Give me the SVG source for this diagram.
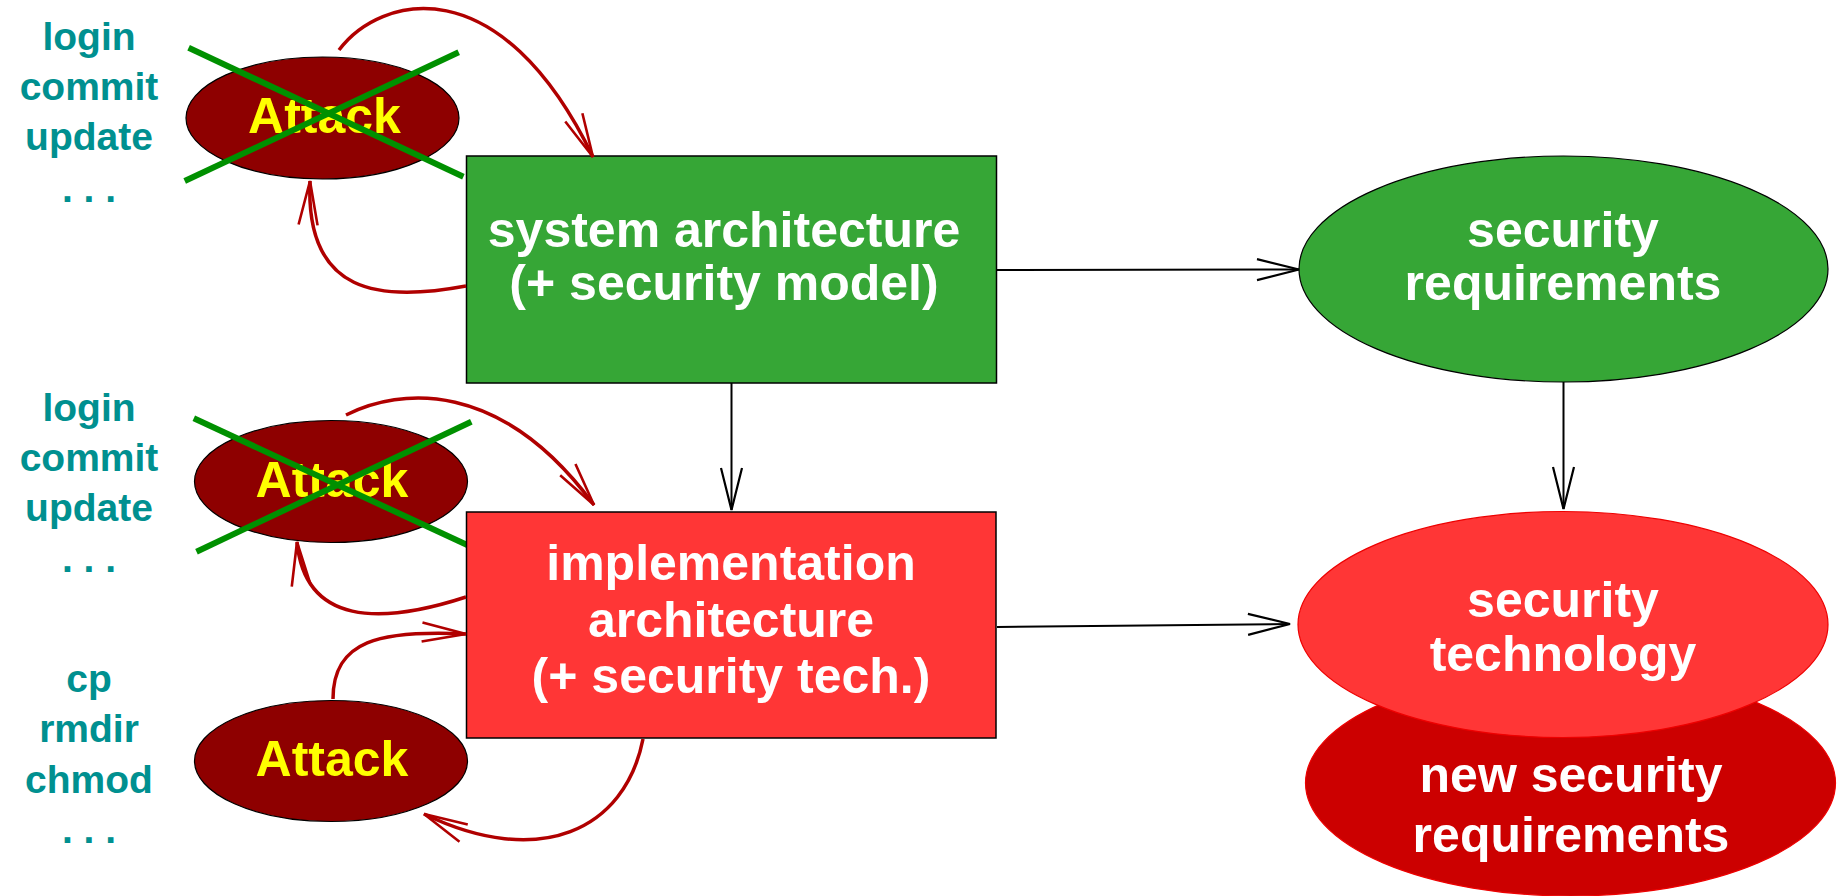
<svg xmlns="http://www.w3.org/2000/svg" width="1838" height="896" viewBox="0 0 1838 896">
<defs>
<style>
text{font-family:"Liberation Sans",Arial,sans-serif;font-weight:bold;text-anchor:middle}
.cmd{fill:#009090;font-size:39px}
.atk{fill:#ffff00;font-size:50px}
.lbl{fill:#ffffff;font-size:50px}
.atkshape{fill:#8e0000;stroke:#000;stroke-width:1.2}
.cross{stroke:#009000;stroke-width:6;fill:none}
.blk{stroke:#000;stroke-width:2;fill:none;marker-end:url(#ab)}
.red{stroke:#b00000;stroke-width:3.5;fill:none;marker-end:url(#ar)}
</style>
<marker id="ab" markerUnits="userSpaceOnUse" orient="auto" refX="0" refY="0" markerWidth="50" markerHeight="30" viewBox="-46 -15 50 30" overflow="visible">
<path d="M-42,-10.5 L0,0 L-42,10.5" fill="none" stroke="#000" stroke-width="2.2"/>
</marker>
<marker id="ar" markerUnits="userSpaceOnUse" orient="auto" refX="0" refY="0" markerWidth="50" markerHeight="30" viewBox="-46 -15 50 30" overflow="visible">
<path d="M-44,-9.5 L0,0 L-44,9.5" fill="none" stroke="#b00000" stroke-width="2.6"/>
</marker>
</defs>
<rect width="1838" height="896" fill="#fff"/>

<g id="cmds1">
<text class="cmd" x="89" y="50">login</text>
<text class="cmd" x="89" y="100">commit</text>
<text class="cmd" x="89" y="150">update</text>
<text class="cmd" x="89" y="202">. . .</text>
</g>
<g id="cmds2">
<text class="cmd" x="89" y="421">login</text>
<text class="cmd" x="89" y="471">commit</text>
<text class="cmd" x="89" y="521">update</text>
<text class="cmd" x="89" y="572">. . .</text>
</g>
<g id="cmds3">
<text class="cmd" x="89" y="692">cp</text>
<text class="cmd" x="89" y="742">rmdir</text>
<text class="cmd" x="89" y="793">chmod</text>
<text class="cmd" x="89" y="843">. . .</text>
</g>

<g id="attack1">
<ellipse class="atkshape" cx="322.5" cy="118" rx="136.5" ry="61"/>
<text class="atk" x="324.5" y="133">Attack</text>
<line class="cross" x1="188.6" y1="47.7" x2="463.4" y2="176.7"/>
<line class="cross" x1="458.7" y1="52.3" x2="184.7" y2="181"/>
</g>
<g id="attack2">
<ellipse class="atkshape" cx="331" cy="481.5" rx="136.5" ry="61"/>
<text class="atk" x="332" y="497">Attack</text>
<line class="cross" x1="193.8" y1="418.3" x2="469.4" y2="546"/>
<line class="cross" x1="471.3" y1="421.7" x2="196.5" y2="551.7"/>
</g>
<g id="attack3">
<ellipse class="atkshape" cx="331" cy="761" rx="136.5" ry="60.5"/>
<text class="atk" x="332" y="776">Attack</text>
</g>

<g id="sysarch">
<rect x="466.5" y="156" width="530" height="227" fill="#36a636" stroke="#000" stroke-width="1.5"/>
<text class="lbl" x="724" y="247">system architecture</text>
<text class="lbl" x="724" y="300">(+ security model)</text>
</g>
<g id="implarch">
<rect x="466.5" y="512" width="529.5" height="226" fill="#ff3636" stroke="#000" stroke-width="1.5"/>
<text class="lbl" x="731" y="580">implementation</text>
<text class="lbl" x="731" y="637">architecture</text>
<text class="lbl" x="731" y="693">(+ security tech.)</text>
</g>
<g id="secreq">
<ellipse cx="1563.5" cy="269" rx="264.5" ry="113" fill="#36a636" stroke="#000" stroke-width="1.2"/>
<text class="lbl" x="1563" y="247">security</text>
<text class="lbl" x="1563" y="300">requirements</text>
</g>
<g id="newreq">
<ellipse cx="1570.5" cy="783" rx="265" ry="113" fill="#cc0000" stroke="#ee0000" stroke-width="1.2"/>
<text class="lbl" x="1571" y="791.5">new security</text>
<text class="lbl" x="1571" y="851.5">requirements</text>
</g>
<g id="sectech">
<ellipse cx="1563" cy="624.5" rx="265" ry="113" fill="#ff3636" stroke="#ee0000" stroke-width="1.2"/>
<text class="lbl" x="1563" y="617">security</text>
<text class="lbl" x="1563" y="671">technology</text>
</g>

<g id="connectors">
<path class="blk" d="M997,270 L1299,269.5"/>
<path class="blk" d="M731.5,383 L731.5,510"/>
<path class="blk" d="M997,627 L1290,624"/>
<path class="blk" d="M1563.5,382 L1563.5,509"/>
<path class="red" d="M339,50 C380,-5 500,-35 593,157"/>
<path class="red" d="M466,286 C380,302 305,295 310,181"/>
<path class="red" d="M346,415 C400,388 500,378 594,505"/>
<path class="red" d="M466,597 C380,625 305,625 297,542"/>
<path class="red" d="M333,699 C333,640 380,630 466,634"/>
<path class="red" d="M643,739 C625,830 540,870 424,814"/>
</g>
</svg>
